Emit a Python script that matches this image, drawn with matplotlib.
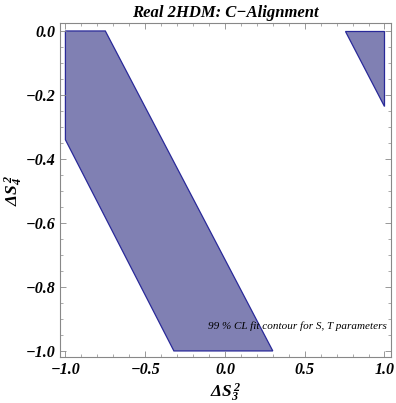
import matplotlib
matplotlib.use("Agg")
import matplotlib.pyplot as plt
from matplotlib.patches import Polygon
from matplotlib.ticker import MultipleLocator

# allowed region (99% CL)
band_x = [-1.0, -0.75, 0.30, -0.32, -1.0]
band_y = [0.0, 0.0, -1.0, -1.0, -0.34]
corner_x = [0.75, 1.0, 1.0]
corner_y = [0.0, 0.0, -0.235]

plt.rcParams['font.family'] = 'Liberation Serif'
plt.rcParams['mathtext.fontset'] = 'custom'
plt.rcParams['mathtext.rm'] = 'Liberation Serif:bold:italic'
plt.rcParams['mathtext.it'] = 'Liberation Serif:bold:italic'
plt.rcParams['mathtext.bf'] = 'Liberation Serif:bold:italic'

fig = plt.figure(figsize=(3.96, 4.03), dpi=100)
ax = fig.add_axes([0.1515, 0.1141, 0.8355, 0.8289])

fill = (0.5, 0.5, 0.7)
edge = (0.16, 0.16, 0.6)
for xs, ys in [(band_x, band_y), (corner_x, corner_y)]:
    ax.add_patch(Polygon(list(zip(xs, ys)), closed=True, facecolor=fill,
                         edgecolor=edge, lw=0.9))

ax.set_xlim(-1.034, 1.04)
ax.set_ylim(-1.019, 0.025)

ax.xaxis.set_major_locator(MultipleLocator(0.5))
ax.xaxis.set_minor_locator(MultipleLocator(0.1))
ax.yaxis.set_major_locator(MultipleLocator(0.2))
ax.yaxis.set_minor_locator(MultipleLocator(0.05))
ax.tick_params(which='both', direction='in', top=True, right=True,
               color='#888888', labelsize=11.5)
ax.tick_params(which='major', length=4, width=0.6)
ax.tick_params(which='minor', length=2, width=0.5)
for lab in ax.get_xticklabels() + ax.get_yticklabels():
    lab.set_fontweight('bold')
    lab.set_fontstyle('italic')
for s in ax.spines.values():
    s.set_color('#888888')
    s.set_linewidth(0.8)

ax.set_xlabel(r'$\Delta S_3^{\,2}$', fontsize=12.5, labelpad=3)
ax.set_ylabel(r'$\Delta S_4^{\,2}$', fontsize=12.5)
ax.yaxis.set_label_coords(-0.105, 0.5)
ax.set_title('Real 2HDM: C\u2212Alignment', fontsize=12, fontweight='bold',
             fontstyle='italic', pad=4)

ax.text(0.988, 0.093, '99 % CL fit contour for S, T parameters',
        transform=ax.transAxes, ha='right', va='center', fontsize=8,
        fontstyle='italic')

fig.savefig('out.png', dpi=100)
